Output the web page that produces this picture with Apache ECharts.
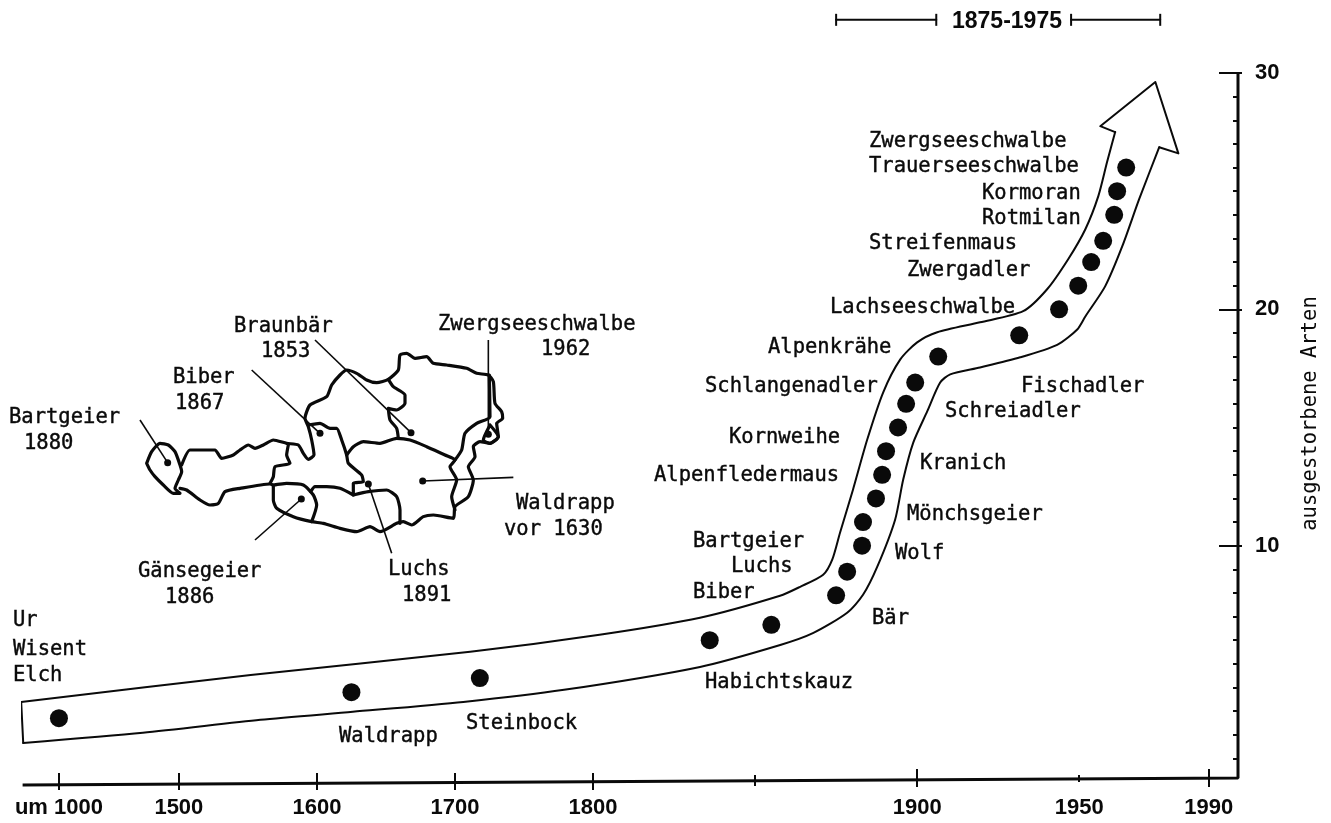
<!DOCTYPE html>
<html><head><meta charset="utf-8">
<style>html,body{margin:0;padding:0;background:#fff}#c{width:1331px;height:823px}</style>
<script src="https://cdn.jsdelivr.net/npm/echarts@6/dist/echarts.min.js"></script>
</head><body><div id="c"></div>
<script>
// ---- chart data ----
const dotYears  = [1000,1625,1718,1836,1855,1875,1878.4,1883,1883.3,1887.3,1889.2,1890.4,1894.1,1896.6,1899.4,1906.5,1931.5,1943.8,1949.7,1953.7,1957.4,1960.8,1961.7,1964.5];
const dotCounts = [2.7,3.8,4.4,6,6.65,7.9,8.9,10,11,12,13,14,15,16,16.9,18,18.9,20,21,22,22.9,24,25,26];
const xLabelYears = [1000,1500,1600,1700,1800,1900,1950,1990];
const xTicksTall  = [1900,1990];
const xTicksMid   = [1000,1500,1600,1700,1800];
const xTicksShort = [1850,1950];
const yMajor = [10,20,30];
const yMinor = [1,2,3,4,5,6,7,8,9,11,12,13,14,15,16,17,18,19,21,22,23,24,25,26,27,28,29];
const bandLowerYears = [825,1350,1559,1626,1706,1779,1833,1858,1868,1878.4,1883.3,1887.7,1893.2,1895.7,1898.8,1903.1,1907.1,1910.2,1919.4,1931.8,1943.2,1949.4,1951.9,1958,1963.3,1968.5,1974.7];
const bandLowerVals  = [1.65,2.08,2.63,2.97,3.39,3.9,4.87,5.81,6.31,7.16,7.92,9.11,11.1,12.8,14.36,15.68,16.9,17.25,17.54,17.97,18.5,19.15,19.7,20.97,22.67,24.66,26.86];
const headYears = [1974.7,1980.6,1973.5,1956.5,1961.1];
const headVals  = [26.86,26.6,29.62,27.75,27.5];
const bandUpperYears = [1961.1,1958.6,1955.9,1951.9,1946.6,1940.1,1932.7,1919.4,1906.2,1900,1894.8,1889.5,1884.6,1880.2,1876.2,1873.8,1871,1863.9,1857.7,1833,1802,1711,1552,815];
const bandUpperVals  = [27.5,26.23,24.79,23.39,22.12,20.85,19.92,19.45,19.03,18.6,17.88,16.48,14.49,12.37,10.55,9.41,8.77,8.26,7.88,6.95,6.23,5.51,4.53,3.39];
const capYears = [815,825];
const capVals  = [3.39,1.65];
const spanLeftYears  = [1875,1905.9];
const spanRightYears = [1947.5,1975];
const spanVal = 32.25;
const baseYears = [822,1999,1999];
const baseVals  = [-0.13,0.17,30];

// axis scale: 1800-1990 linear, earlier centuries compressed
const scaleYears = [800,1000,1500,1800,1999];
const scalePos   = [1622.6,1635.2,1672.2,1800,1999];
function yearPos(y){
  for(let i=0;i<scaleYears.length-1;i++){
    if(y<=scaleYears[i+1]){
      const t=(y-scaleYears[i])/(scaleYears[i+1]-scaleYears[i]);
      return scalePos[i]+t*(scalePos[i+1]-scalePos[i]);
    }
  }
  return y;
}
const xMin=1623.8, xMax=1999;

// ---- Austria sketch, in map units ----
const mapVorarlberg=[[20,370],[35,335],[60,310],[85,315],[105,335],[120,375],[125,395],[115,420],[105,445],[120,460],[100,460],[70,435],[45,410],[30,390],[20,370]];
const mapNorth=[[125,375],[150,330],[195,330],[225,330],[245,355],[280,345],[300,330],[325,315],[345,325],[370,315],[400,300],[440,310],[475,315],[490,340],[505,358],[522,345],[515,300],[505,260],[495,235],[510,195],[560,170],[575,135],[600,105],[620,90],[650,100],[680,120],[710,128],[745,118],[775,90],[780,45],[800,40],[825,55],[860,50],[880,70],[920,75],[980,85],[1010,100],[1045,105],[1060,125],[1065,190],[1085,215],[1088,235],[1070,250],[1075,290],[1050,310],[1020,305],[1000,320],[1005,350],[985,380],[1000,420],[985,470],[945,500],[940,535],[880,525],[850,530],[815,555],[790,545],[770,550],[720,575],[690,560],[650,575],[600,565],[550,550],[515,545],[460,530],[410,505],[400,480],[400,435]];
const mapSouth=[[120,445],[140,450],[180,480],[210,495],[235,490],[255,455],[300,445],[390,432],[400,435],[440,430],[490,435],[520,465],[530,495],[515,545]];
const mapTirolSalzburg=[[445,315],[440,345],[450,370],[405,380],[400,410],[390,430]];
const mapSalzburg=[[505,255],[540,250],[570,265],[590,265],[605,300],[620,345],[625,370],[665,405],[670,425],[640,430],[640,465],[600,445],[560,440],[525,440],[512,455]];
const mapStyriaTop=[[620,345],[640,320],[670,305],[720,310],[770,295],[810,300],[860,320],[915,345],[945,360],[930,380],[950,420],[935,470],[945,510]];
const mapUpperLower=[[745,118],[760,140],[795,165],[795,190],[770,210],[745,205],[750,240],[770,265],[775,295]];
const mapCarinthia=[[640,465],[685,455],[740,450],[770,470],[780,510],[780,550]];
const mapBurgenland=[[1048,105],[1050,230],[1010,250],[975,280],[965,330],[945,360]];
const mapVienna=[[1050,255],[1075,290],[1050,310],[1030,300],[1050,255]];
const mapBorders=[mapVorarlberg,mapNorth,mapSouth,mapTirolSalzburg,mapSalzburg,mapStyriaTop,mapUpperLower,mapCarinthia,mapBurgenland,mapVienna];
const leaderLines=[
 [[0,240],[83,368]],
 [[335,90],[540,280]],
 [[525,0],[813,278]],
 [[1045,0],[1045,283]],
 [[848,423],[1120,412]],
 [[345,600],[484,477]],
 [[685,432],[755,640]]
];
const mapDots=[[83,368],[540,280],[813,278],[1045,283],[848,423],[484,477],[685,432]];

// ---- text ----
const labelRows=[
 ['Ur',13,621],['Wisent',13,650],['Elch',13,676],
 ['Waldrapp',339,737],['Steinbock',466,724],['Habichtskauz',705,683],
 ['Biber',693,593],['Bartgeier',693,542],['Luchs',731,567],
 ['Bär',872,619],['Wolf',895,554],['Mönchsgeier',907,515],['Kranich',920,464],
 ['Schreiadler',945,412],['Fischadler',1021,387],['Lachseeschwalbe',830,308],
 ['Alpenkrähe',768,348],['Schlangenadler',705,387],['Kornweihe',729,438],['Alpenfledermaus',654,476],
 ['Zwergadler',907,271],['Streifenmaus',869,244],['Rotmilan',982,219],['Kormoran',982,194],
 ['Trauerseeschwalbe',869,167],['Zwergseeschwalbe',869,142],
 ['Braunbär',234,327],['1853',261,352],['Zwergseeschwalbe',438,325],['1962',541,350],
 ['Biber',173,378],['1867',175,404],['Bartgeier',9,418],['1880',24,444],
 ['Waldrapp',516,504],['vor 1630',504,530],['Gänsegeier',138,572],['1886',165,598],
 ['Luchs',388,570],['1891',402,596]
];
const spanLabel='1875-1975';
const yName='ausgestorbene Arten';

const INK='#0a0a0a';
const pts=(xs,ys)=>xs.map((x,i)=>[yearPos(x),ys[i]]);
const lineS=(data,extra)=>Object.assign({type:'line',data,symbol:'none',clip:false,silent:true,
  lineStyle:{color:INK,width:2,join:'round',cap:'round'},z:3,xAxisIndex:0,yAxisIndex:0},extra||{});
const tickX=(vals,len,inside,width)=>({type:'value',gridIndex:0,min:xMin,max:xMax,position:'bottom',
  axisLine:{show:false},splitLine:{show:false},
  axisLabel:{show:false},
  axisTick:{show:true,inside,length:len,customValues:vals.map(yearPos),lineStyle:{color:INK,width:width||2}}});
const tickY=(vals,len,inside,width)=>({type:'value',gridIndex:0,min:0,max:30,position:'right',
  axisLine:{show:false},splitLine:{show:false},axisLabel:{show:false},
  axisTick:{show:true,inside,length:len,customValues:vals,lineStyle:{color:INK,width:width||2}}});

const labelByPos={};xLabelYears.forEach(y=>{labelByPos[yearPos(y).toFixed(3)]=(y===1000?'um 1000':String(y));});

const xAxes=[
 {type:'value',gridIndex:0,min:xMin,max:xMax,position:'bottom',axisLine:{show:false},splitLine:{show:false},axisTick:{show:false},
  axisLabel:{show:true,margin:15,color:INK,fontFamily:'Liberation Sans',fontWeight:'bold',fontSize:22,hideOverlap:false,
    customValues:xLabelYears.map(yearPos),formatter:v=>labelByPos[Number(v).toFixed(3)]||''}},
 tickX(xTicksMid,9,true),tickX(xTicksMid,8,false),
 tickX(xTicksTall,13,true),tickX(xTicksTall,5,false),
 tickX(xTicksShort,7,true),tickX([1850],4,false),
 {type:'value',gridIndex:1,min:0,max:1140,show:false}
];
const yAxes=[
 {type:'value',gridIndex:0,min:0,max:30,position:'right',axisLine:{show:false},splitLine:{show:false},
  axisTick:{show:true,inside:true,length:19,customValues:yMajor,lineStyle:{color:INK,width:2}},
  axisLabel:{show:true,inside:false,margin:17,color:INK,fontFamily:'Liberation Sans',fontWeight:'bold',fontSize:22,customValues:yMajor},
  name:yName,nameLocation:'middle',nameRotate:90,nameGap:62,
  nameTextStyle:{fontFamily:'DejaVu Sans Mono',fontSize:20.5,color:INK,padding:[0,0,0,28]}},
 tickY(yMajor,4,false),tickY(yMinor,5,true),
 {type:'value',gridIndex:1,min:-60,max:660,inverse:true,show:false}
];
const MX=xAxes.length-1, MY=yAxes.length-1;

const series=[
 lineS(pts(bandLowerYears,bandLowerVals),{smooth:0.25}),
 lineS(pts(headYears,headVals)),
 lineS(pts(bandUpperYears,bandUpperVals),{smooth:0.25}),
 lineS(pts(capYears,capVals)),
 lineS(pts(baseYears,baseVals),{lineStyle:{color:INK,width:3}}),
 lineS(pts(spanLeftYears,[spanVal,spanVal]),{showSymbol:true,symbol:['rect','none'],symbolSize:[2,12],itemStyle:{color:INK}}),
 lineS(pts(spanRightYears,[spanVal,spanVal]),{showSymbol:true,symbol:['none','rect'],symbolSize:[2,12],itemStyle:{color:INK}}),
 {type:'scatter',data:pts(dotYears,dotCounts),symbol:'circle',symbolSize:18,itemStyle:{color:INK,opacity:1},z:4,xAxisIndex:0,yAxisIndex:0,silent:true}
];
mapBorders.forEach(d=>series.push({type:'line',data:d,xAxisIndex:MX,yAxisIndex:MY,symbol:'none',clip:false,silent:true,z:3,smooth:0.2,
  lineStyle:{color:INK,width:3.2,join:'round',cap:'round'}}));
leaderLines.forEach(d=>series.push({type:'line',data:d,xAxisIndex:MX,yAxisIndex:MY,symbol:'none',clip:false,silent:true,z:3,
  lineStyle:{color:INK,width:1.6}}));
series.push({type:'scatter',data:mapDots,xAxisIndex:MX,yAxisIndex:MY,symbol:'circle',symbolSize:7,itemStyle:{color:INK,opacity:1},z:4,silent:true,clip:false});

const graphics=labelRows.map(r=>({type:'text',x:r[1],y:r[2],silent:true,z:10,
  style:{text:r[0],font:'20.5px "DejaVu Sans Mono"',fill:INK,stroke:INK,lineWidth:0.4,verticalAlign:'middle',align:'left'}}));
graphics.push({type:'text',x:952,y:22,silent:true,z:10,
  style:{text:spanLabel,font:'bold 23px "Liberation Sans"',fill:INK,verticalAlign:'middle',align:'left'}});

const chart=echarts.init(document.getElementById('c'),null,{renderer:'canvas'});
chart.setOption({
  animation:false,backgroundColor:'#fff',
  grid:[{left:22,right:93,top:73,bottom:41,outerBoundsMode:'none'},{left:140,top:320,width:380,height:240,outerBoundsMode:'none'}],
  xAxis:xAxes,yAxis:yAxes,series,graphic:graphics
});
</script></body></html>
